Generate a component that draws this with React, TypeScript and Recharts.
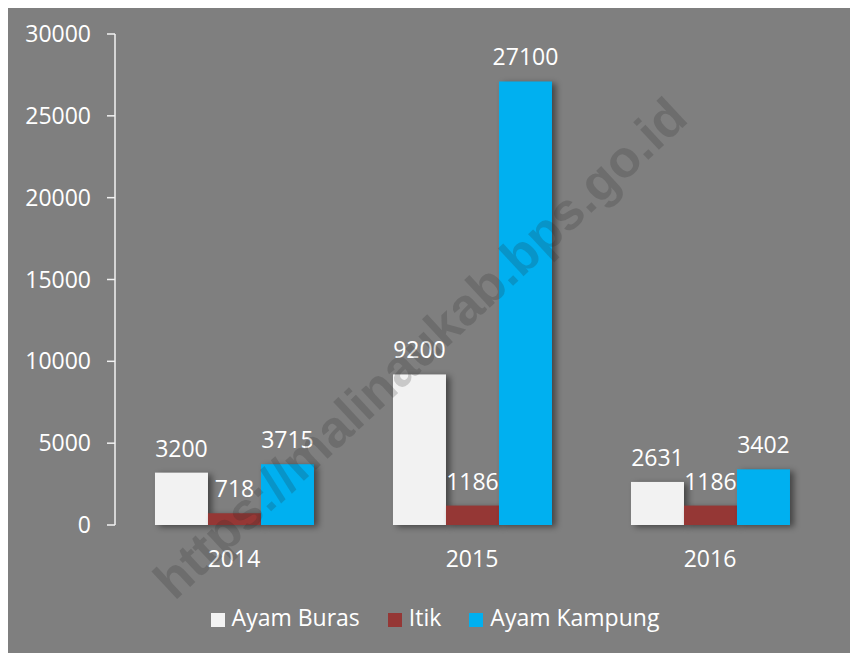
import React from "react";
import { BarChart, Bar, XAxis, YAxis, Legend, LabelList } from "recharts";

const years = ["2014", "2015", "2016"];
const ayamBuras = [3200, 9200, 2631];
const itik = [718, 1186, 1186];
const ayamKampung = [3715, 27100, 3402];
const yTicks = [0, 5000, 10000, 15000, 20000, 25000, 30000];
const edgeTicks = [0, 1, 2, 3];
const seriesOrder = ["Ayam Buras", "Itik", "Ayam Kampung"];

const data = years.map((y, i) => ({
  year: y,
  ayamBuras: ayamBuras[i],
  itik: itik[i],
  ayamKampung: ayamKampung[i],
}));

const FONT = "'Open Sans', sans-serif";
const AXIS = "#f2f2f2";
const FS = 23;

const ShadowRect = (props: any) => {
  const { x, y, width, height, fill } = props;
  if (!height || height <= 0) return null;
  return (
    <rect
      x={x}
      y={y}
      width={width}
      height={height}
      fill={fill}
      style={{ filter: "drop-shadow(4px 2px 3px rgba(0,0,0,0.45))" }}
    />
  );
};

export default function App() {
  return (
    <div
      style={{
        position: "relative",
        width: 854,
        height: 649,
        left: -4,
        top: -4,
        background: "#7f7f7f",
        fontFamily: FONT,
        overflow: "hidden",
      }}
    >
      <BarChart
        width={854}
        height={649}
        data={data}
        margin={{ top: 30, right: 29, left: 0, bottom: 47 }}
        barCategoryGap="16.8%"
        barGap={0}
      >
        <XAxis
          xAxisId="edges"
          type="number"
          domain={[0, 3]}
          ticks={edgeTicks}
          tick={false}
          tickSize={8}
          height={0}
          stroke={AXIS}
          axisLine={{ stroke: AXIS, strokeWidth: 1.5 }}
          tickLine={{ stroke: AXIS, strokeWidth: 1.5 }}
        />
        <XAxis
          dataKey="year"
          axisLine={false}
          tickLine={false}
          height={50}
          tickMargin={20}
          tick={{ fill: "#ffffff", fontSize: FS, fontFamily: FONT }}
        />
        <YAxis
          width={111}
          domain={[0, 30000]}
          ticks={yTicks}
          interval={0}
          tickSize={8}
          tickMargin={16}
          axisLine={{ stroke: AXIS, strokeWidth: 1.5 }}
          tickLine={{ stroke: AXIS, strokeWidth: 1.5 }}
          tick={{ fill: "#ffffff", fontSize: FS, fontFamily: FONT }}
        />
        <Legend
          verticalAlign="bottom"
          height={31}
          iconType="square"
          iconSize={14}
          itemSorter={(item: any) => seriesOrder.indexOf(item.value)}
          wrapperStyle={{ top: 597, left: 18, width: 854, fontSize: FS, fontFamily: FONT }}
          formatter={(v: string) => (
            <span style={{ color: "#ffffff", marginRight: 18, paddingLeft: 3 }}>{v}</span>
          )}
        />
        <Bar dataKey="ayamBuras" name="Ayam Buras" fill="#f2f2f2" isAnimationActive={false} shape={<ShadowRect />}>
          <LabelList dataKey="ayamBuras" position="top" offset={16} fill="#ffffff" fontSize={FS} fontFamily={FONT} />
        </Bar>
        <Bar dataKey="itik" name="Itik" fill="#953735" isAnimationActive={false} shape={<ShadowRect />}>
          <LabelList dataKey="itik" position="top" offset={16} fill="#ffffff" fontSize={FS} fontFamily={FONT} />
        </Bar>
        <Bar dataKey="ayamKampung" name="Ayam Kampung" fill="#00b0f0" isAnimationActive={false} shape={<ShadowRect />}>
          <LabelList dataKey="ayamKampung" position="top" offset={16} fill="#ffffff" fontSize={FS} fontFamily={FONT} />
        </Bar>
      </BarChart>
      <div
        style={{
          position: "absolute",
          left: 416,
          top: 344,
          transform: "translate(-50%, -50%) rotate(-43deg)",
          whiteSpace: "nowrap",
          fontFamily: "'Liberation Sans', Arial, sans-serif",
          fontWeight: 700,
          fontSize: 52,
          color: "rgba(40,40,40,0.2)",
          pointerEvents: "none",
        }}
      >
        https://malinaukab.bps.go.id
      </div>
    </div>
  );
}
